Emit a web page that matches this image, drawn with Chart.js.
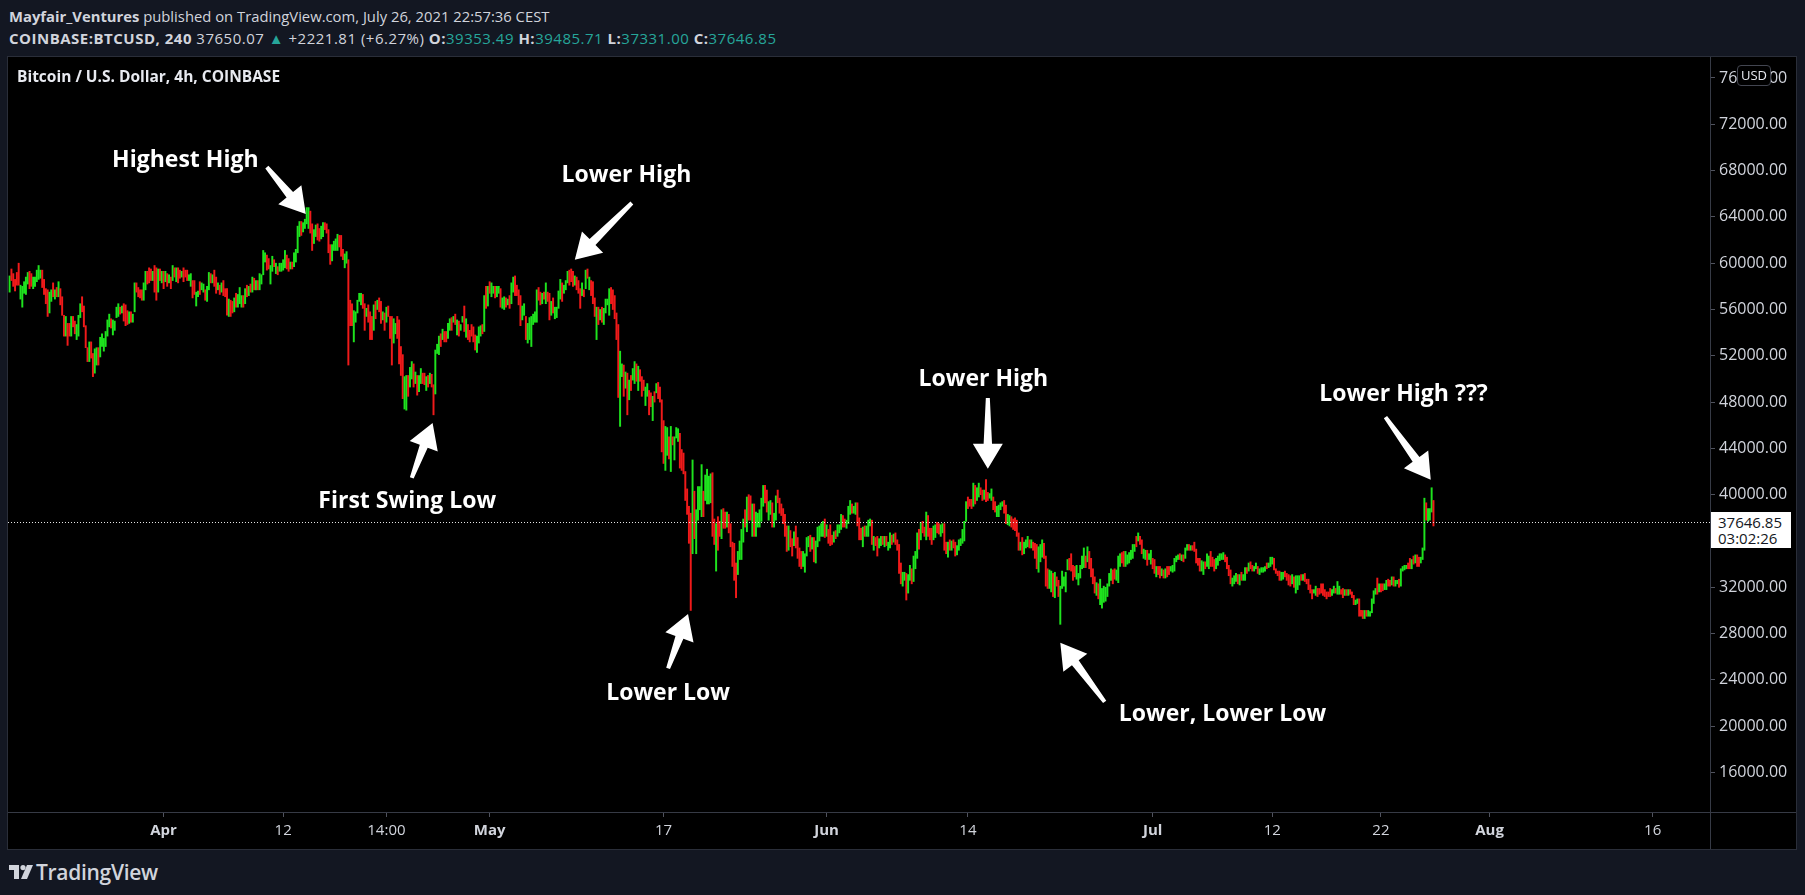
<!DOCTYPE html>
<html lang="en">
<head>
<meta charset="utf-8">
<title>BTCUSD 4h</title>
<script src="https://cdn.jsdelivr.net/npm/chart.js@4.4.1/dist/chart.umd.min.js"></script>
<style>
  body {
    margin: 0;
    width: 1805px;
    height: 895px;
    background: #131722;
    overflow: hidden;
    position: relative;
    font-family: "Open Sans", "Noto Sans", sans-serif;
    color: #d1d4dc;
  }
  .hdr { position: absolute; left: 9px; font-size: 14.8px; line-height: 20px; white-space: nowrap; }
  .hdr b { font-weight: 700; }
  .wide { font-size: 15px; letter-spacing: 0.5px; }
  .teal { color: #26a69a; }
  #panel { position: absolute; left: 8px; top: 57px; width: 1788px; height: 792px; background: #000; box-shadow: 0 0 0 1px #2a2e39; }
  #panel canvas { position: absolute; left: 0; top: 0; }
  #title { position: absolute; left: 9px; top: 9px; font-size: 15.5px; line-height: 20px; font-weight: 700; color: #e8eaf0; white-space: nowrap; }
  .note { position: absolute; transform: translate(-50%, -50%); font-size: 23px; font-weight: 700; color: #fff; white-space: nowrap; }
  #usd { position: absolute; left: 1729px; top: 8px; width: 32px; height: 19px; border: 1px solid #434651; border-radius: 4px;
         background: #000; color: #e8eaf0; font-size: 13px; line-height: 19px; text-align: center; }
  #lastPrice { position: absolute; width: 80px; height: 36px; background: #fff; color: #131722; font-size: 15px;
               line-height: 16px; padding: 2px 0 0 7px; box-sizing: border-box; }
  #footer { position: absolute; left: 9px; top: 860px; height: 24px; display: flex; align-items: center; gap: 3px; }
  #footer span { font-size: 21px; font-weight: 600; color: #d1d4dc; letter-spacing: -0.3px; }
</style>
</head>
<body>
<div class="hdr" style="top:6px"><b>Mayfair_Ventures</b> published on TradingView.com, July 26, 2021 22:57:36 CEST</div>
<div class="hdr wide" style="top:28px"><b>COINBASE:BTCUSD, 240</b> 37650.07 <span class="teal">▲</span> +2221.81 (+6.27%) <b>O:</b><span class="teal">39353.49</span> <b>H:</b><span class="teal">39485.71</span> <b>L:</b><span class="teal">37331.00</span> <b>C:</b><span class="teal">37646.85</span></div>

<div id="panel">
  <canvas id="myChart" width="1788" height="792"></canvas>
  <div id="title">Bitcoin / U.S. Dollar, 4h, COINBASE</div>
  <div id="usd">USD</div>
</div>

<div id="footer">
  <svg width="24" height="14" viewBox="0 0 24 14">
    <path d="M0 0h10v14H5V5H0z" fill="#d1d4dc"/>
    <circle cx="14" cy="2.6" r="2.6" fill="#d1d4dc"/>
    <path d="M18 0h6l-6 14h-6z" fill="#d1d4dc"/>
  </svg>
  <span>TradingView</span>
</div>

<script>
// 4h bars from Mar 17 20:00 to Jul 26 20:00, [high, low] in hundreds of USD
const marchBars = [
  [589,575],[595,585],[591,580],[586,576],[592,581],[600,581],[581,569],[580,562],[584,574],[588,573],
  [592,582],[593,578],[591,580],[588,578],[588,580],[594,584],[598,586],[594,587],[594,579],[586,573],
  [578,565],[577,554],[575,557],[577,567],[583,571],[577,569],[579,571],[584,571],[578,564],[571,555],
  [555,537],[554,537],[548,529],[548,537],[554,537],[554,545],[550,539],[547,534],[555,537],[565,553],
  [571,558],[563,545],[546,527],[527,515],[532,515],[532,518],[522,502],[526,505],[527,512],[527,512],
  [536,519],[539,528],[535,524],[541,528],[551,537],[556,545],[552,544],[551,538],[550,542],[562,553],
  [565,554],[562,556],[563,557],[565,550],[564,546],[559,547],[558,548],[558,549],[556,549],[583,558],
  [583,575],[579,571],[577,570],[577,568],[583,568],[593,577],[593,582],[596,583],[595,585],[593,585],
  [598,575],[596,568],[595,575],[595,585],[593,583]
];
const aprilBars = [
  [593,578],[593,584],[591,580],[590,583],[588,578],[598,585],[596,588],[596,584],[596,583],[594,587],
  [593,588],[596,584],[594,588],[594,585],[590,585],[591,580],[585,570],[585,573],[575,563],[576,571],
  [584,573],[583,577],[582,575],[577,568],[580,567],[592,577],[591,583],[590,583],[594,580],[588,574],
  [583,577],[581,573],[583,575],[585,572],[578,571],[578,555],[569,554],[568,554],[567,557],[570,558],
  [574,562],[573,562],[579,565],[572,562],[572,562],[578,565],[581,571],[580,572],[582,575],[588,575],
  [587,577],[585,577],[585,577],[591,577],[590,582],[611,590],[609,601],[607,594],[604,595],[598,582],
  [606,593],[603,597],[600,591],[597,590],[600,593],[600,593],[603,594],[611,596],[607,595],[604,593],
  [601,595],[601,595],[609,597],[612,601],[632,609],[636,623],[636,624],[635,627],[638,630],[648,634],
  [648,630],[645,626],[634,611],[629,617],[633,623],[634,620],[630,619],[632,621],[635,623],[635,629],
  [634,626],[629,609],[616,599],[616,602],[619,611],[621,611],[625,611],[624,614],[624,606],[612,603],
  [608,596],[610,600],[603,512],[568,546],[565,546],[559,532],[558,549],[568,557],[574,567],[574,564],
  [573,561],[565,542],[561,554],[564,549],[558,534],[554,534],[564,542],[567,552],[568,560],[570,558],
  [567,548],[558,551],[557,542],[562,549],[563,554],[554,535],[554,512],[552,531],[548,539],[554,535],
  [551,513],[528,503],[521,483],[502,474],[503,473],[503,485],[510,493],[515,500],[513,493],[506,496],
  [503,486],[503,489],[509,496],[505,496],[505,495],[502,490],[503,493],[505,496],[504,493],[495,469],
  [525,487],[530,522],[537,521],[539,528],[543,534],[541,532],[541,532],[548,535],[552,542],[553,542],
  [554,549],[556,547],[551,538],[550,537],[547,542],[554,549],[563,541],[552,536],[547,534],[542,532],
  [547,537],[545,532],[538,525],[537,523],[545,531],[546,537],[547,539],[572,541],[580,561],[580,563]
];
const mayBars = [
  [584,574],[583,571],[580,574],[580,570],[580,571],[580,574],[578,562],[570,561],[571,560],[570,562],
  [569,564],[572,561],[583,565],[588,575],[589,572],[581,572],[577,564],[572,546],[563,551],[565,555],
  [554,534],[548,531],[553,534],[554,528],[556,547],[558,549],[577,549],[579,568],[575,564],[574,565],
  [575,569],[583,565],[575,567],[574,551],[567,555],[570,557],[562,552],[562,553],[576,561],[586,569],
  [583,567],[581,574],[585,577],[593,583],[594,581],[595,584],[593,580],[589,581],[588,577],[585,574],
  [578,561],[583,572],[577,571],[594,578],[595,587],[588,577],[585,572],[584,565],[570,554],[562,534],
  [562,547],[560,551],[562,549],[561,547],[569,557],[569,564],[578,555],[579,565],[577,560],[572,552],
  [557,534],[547,484],[524,459],[513,502],[512,485],[506,492],[505,469],[499,482],[503,490],[509,499],
  [515,496],[513,498],[511,490],[508,498],[502,485],[499,490],[493,477],[496,485],[490,469],[488,476],
  [485,464],[489,480],[496,488],[497,483],[493,480],[482,437],[464,427],[459,421],[458,434],[450,431],
  [459,420],[450,443],[450,430],[458,449],[457,446],[453,423],[439,421],[436,418],[420,395],[405,383],
  [390,358],[384,300],[430,349],[403,362],[387,349],[407,378],[407,387],[426,381],[403,381],[417,395],
  [422,392],[416,392],[418,393],[419,364],[379,357],[375,334],[381,352],[377,364],[387,362],[388,371],
  [385,371],[385,372],[383,367],[375,355],[359,338],[358,326],[341,311],[351,331],[360,344],[370,344],
  [379,359],[387,372],[398,368],[400,378],[399,378],[392,364],[392,364],[385,364],[384,372],[387,372],
  [397,377],[408,390],[408,393],[404,385],[394,378],[395,383],[393,372],[384,372],[399,378],[404,393],
  [397,384],[392,382],[388,375],[383,364],[373,351],[373,352],[369,355],[362,347],[368,356],[373,354],
  [363,345],[354,338],[351,336],[351,338],[349,333],[363,347],[364,355],[365,351],[363,353],[363,342],
  [360,341],[372,355],[373,360],[375,364],[377,364],[379,363]
];
const juneBars = [
  [374,364],[370,358],[374,356],[365,357],[368,359],[369,362],[374,364],[374,367],[383,370],[382,372],
  [379,372],[378,371],[390,375],[395,383],[392,384],[390,384],[393,383],[393,373],[380,361],[371,361],
  [372,355],[373,364],[373,364],[378,364],[379,373],[378,357],[364,352],[363,356],[364,347],[362,354],
  [364,356],[364,357],[364,355],[364,356],[359,352],[367,354],[365,357],[366,359],[367,357],[361,352],
  [357,332],[341,323],[333,321],[333,326],[332,309],[331,315],[339,326],[336,323],[347,325],[351,336],
  [367,345],[370,353],[376,361],[377,367],[372,364],[385,361],[382,364],[371,361],[371,357],[373,361],
  [374,363],[376,367],[375,366],[374,364],[375,367],[375,352],[359,349],[359,346],[361,352],[360,352],
  [361,354],[359,347],[356,348],[361,352],[362,356],[370,358],[377,360],[394,377],[398,388],[396,390],
  [396,388],[410,390],[408,392],[406,395],[410,398],[406,400],[404,395],[404,396],[413,394],[402,395],
  [401,397],[405,395],[398,387],[394,385],[390,381],[391,381],[393,387],[394,390],[395,384],[391,375],
  [383,374],[382,373],[381,372],[379,370],[380,369],[378,364],[367,352],[359,352],[363,348],[359,349],
  [361,354],[364,355],[361,354],[361,354],[359,352],[358,345],[357,336],[355,333],[357,342],[361,346],
  [358,345],[347,321],[336,319],[335,319],[334,316],[332,312],[333,311],[329,321],[326,312],[321,288],
  [334,319],[329,321],[333,316],[344,335],[345,335],[349,334],[339,326],[338,329],[339,327],[332,322],
  [339,328],[347,336],[354,337],[347,337],[355,342],[351,336],[345,329],[336,323],[329,315],[324,313],
  [323,310],[327,305],[319,302],[321,307],[320,308],[323,312],[332,321],[336,326],[335,323],[336,327],
  [335,326],[347,324],[349,338],[350,341],[351,338],[351,338],[348,340],[350,341],[352,344],[357,345],
  [357,351],[364,355],[367,360],[364,357],[361,349],[353,345],[352,344],[352,339],[349,344],[352,340]
];
const julyBars = [
  [345,336],[344,332],[338,329],[338,331],[338,328],[336,330],[335,328],[336,328],[338,329],[338,331],
  [338,334],[339,333],[345,334],[347,342],[348,344],[349,344],[348,343],[348,342],[354,345],[357,352],
  [357,352],[356,352],[356,352],[359,351],[353,341],[345,339],[345,334],[343,334],[342,331],[342,336],
  [349,338],[347,336],[351,338],[346,338],[344,334],[345,336],[347,339],[349,343],[349,344],[350,344],
  [348,342],[346,336],[339,330],[335,323],[328,321],[330,323],[332,325],[331,323],[331,322],[333,326],
  [331,326],[337,326],[337,332],[341,334],[342,336],[339,334],[338,334],[341,336],[338,332],[336,331],
  [337,333],[337,333],[338,334],[341,336],[341,337],[346,338],[346,340],[345,335],[336,332],[334,330],
  [334,326],[333,326],[333,327],[334,329],[332,326],[331,322],[330,321],[331,323],[329,320],[330,315],
  [330,318],[330,322],[331,326],[331,326],[332,325],[327,323],[327,318],[322,315],[318,310],[318,315],
  [321,313],[319,312],[319,314],[323,315],[323,313],[318,312],[316,310],[316,312],[319,312],[318,313],
  [321,315],[319,315],[325,314],[321,314],[318,314],[319,311],[318,313],[318,313],[318,313],[318,314],
  [316,311],[313,305],[309,305],[310,306],[310,295],[300,295],[300,293],[300,293],[300,295],[300,295],
  [299,295],[310,298],[317,306],[319,314],[328,314],[323,316],[323,316],[323,317],[323,318],[326,318],
  [327,321],[326,321],[329,322],[329,321],[326,321],[326,323],[327,320],[336,321],[338,334],[339,335],
  [339,336],[341,336],[345,336],[344,336],[347,340],[348,341],[348,338],[346,338],[346,341],[354,344],
  [397,352],[393,378],[388,377],[388,378],[406,385],[395,373]
];

// bar direction, G = close above open, R = close below open
const marchDir = "GRRRRRGGGG" + "GRRGGGGGRR" + "RRGGRGRGRR" + "RGRRGRRGGG" + "RRRRGRRGGR" + "GGGGGGRGGG" + "GRGRRRGRGG" + "RRRRGGRRRG" + "RRGRG";
const aprilDir = "RGRGRGRGRR" + "GRRRGGRRGG" + "RGGRGGRGRR" + "GRGRRRGRRG" + "RGGGRGRGRG" + "RGRGGGGRRG" + "GRGRGGGGRR" + "GRGGGGRGGG" + "GRRGGRRGGR" +
                 "RRRGGGGRRR" + "GGRRRGGGGG" + "RRGRRRGRGR" + "RGRGRRRGGR" + "RRRGGRGGRG" + "RGGRRGRGRR" + "GGGRGRRGGR" + "GRGRGGRGRR" + "RRRGGGRGRG";
const mayDir = "RGGRGGRGGR" + "GRGGRRRRGG" + "RGGGGGGRRG" + "RGRRGRGGGG" + "RGGGRRRGRR" + "RGRGRGRRRG" + "RGRGGGGRRR" + "RRGGRGRGRG" + "GRGRRRGGRR" +
               "GRGRRRRGGR" + "GRGGGRRRRR" + "RRGRGGGGRG" + "GGGRRGRRGR" + "RGRRRRRGGG" + "GRGRRGRGGG" + "GGRRGGRGGR" + "RRRRRGRRGR" + "RRRGGGGRGR" + "GGGGGR";
const juneDir = "GRRRGRGGGR" + "RGGGRGGRRR" + "GRGGGRGRRG" + "GRGRGGRGRR" + "RRGGRGGRGG" + "GRGRRGRRRG" + "GRRGGRRGRG" + "RRGGGGGGRR" + "RGRGGRRGRR" +
                "GGRRGGGGRR" + "GGRRRRRGRG" + "GGRGRRRGGG" + "RRRGGRGRRG" + "GGGGRRRRGG" + "GGGRGRRRRG" + "RGGGGGGGRR" + "GGGRRGGGGG" + "GRGRRGGRGG";
const julyDir = "RRGRRGRGRR" + "GGGGGRGRGG" + "RGRRRRRGGR" + "GGRRRGGGGG" + "RRRRGGGRGR" + "GGRGRRGGRG" + "GGGRGGGRRR" + "RGGRRRRGRG" +
                "GGRGRRRRRG" + "GRRRRRRRRG" + "GRGGRRGRGR" + "RRGGRRRGRG" + "GGGGRGRRGG" + "RRGRGGRGGG" + "GRRGRGRRGG" + "GRGGGR";

// bar index of the axis labels (6 bars per day, Apr 1 = bar 85)
const xTickBars = [85, 151, 208, 265, 361, 451, 529, 631, 697, 757, 817, 907];
const xTickLabels = ["Apr", "12", "14:00", "May", "17", "Jun", "14", "Jul", "12", "22", "Aug", "16"];
const monthLabels = ["Apr", "May", "Jun", "Jul", "Aug"];
const yTickValues = [16000, 20000, 24000, 28000, 32000, 36000, 40000, 44000, 48000, 52000, 56000, 60000, 64000, 68000, 72000, 76000];

const lastPrice = 37646.85;
const lastPriceTimer = "03:02:26";

// drawings on the chart, anchored as [bar index, price]
const noteLabels = ["Highest High", "Lower High", "First Swing Low", "Lower Low", "Lower High", "Lower, Lower Low", "Lower High ???"];
const noteTextAt = [[97, 69100], [340.5, 67800], [219.5, 39650], [363.5, 23050], [537.5, 50200], [669.5, 21200], [769.5, 48900]];
const arrowTail = [[142, 68300], [343.5, 65200], [222, 41450], [363.5, 25000], [540, 48350], [604.5, 22100], [759.5, 46700]];
const arrowTip = [[163.5, 64250], [312, 60300], [233.5, 46200], [374.5, 29700], [540, 42250], [580, 27200], [784.5, 41300]];

const GREEN = "#1ee31e";
const RED = "#f01a1a";
const AXIS_LINE = "#363a45";
const TEXT = "#d1d4dc";

const bars = [...marchBars, ...aprilBars, ...mayBars, ...juneBars, ...julyBars];
const dirs = (marchDir + aprilDir + mayDir + juneDir + julyDir).split("");
if (dirs.length !== bars.length) console.error("direction count", dirs.length, "bars", bars.length);

const barData = bars.map(([hi, lo], i) => ({ x: i, y: [lo * 100, hi * 100] }));
const barColors = bars.map((b, i) => (dirs[i] === "G" ? GREEN : RED));

function drawArrow(ctx, x0, y0, x1, y1) {
  const len = Math.hypot(x1 - x0, y1 - y0);
  const ux = (x1 - x0) / len;
  const uy = (y1 - y0) / len;
  const nx = -uy;
  const ny = ux;
  const head = 25;
  const bx = x1 - ux * head;
  const by = y1 - uy * head;
  const pts = [
    [x0 + nx * 2, y0 + ny * 2],
    [bx + nx * 4.2, by + ny * 4.2],
    [bx + nx * 15, by + ny * 15],
    [x1, y1],
    [bx - nx * 15, by - ny * 15],
    [bx - nx * 4.2, by - ny * 4.2],
    [x0 - nx * 2, y0 - ny * 2],
  ];
  ctx.beginPath();
  pts.forEach(([px, py], k) => (k ? ctx.lineTo(px, py) : ctx.moveTo(px, py)));
  ctx.closePath();
  ctx.fillStyle = "#ffffff";
  ctx.fill();
}

const overlayPlugin = {
  id: "overlay",
  afterDatasetsDraw(chart) {
    const { ctx, chartArea, scales } = chart;
    const { x, y } = scales;
    ctx.save();
    // pane separators
    ctx.strokeStyle = AXIS_LINE;
    ctx.lineWidth = 1;
    ctx.beginPath();
    ctx.moveTo(Math.round(chartArea.right) + 0.5, 0);
    ctx.lineTo(Math.round(chartArea.right) + 0.5, chart.height);
    ctx.moveTo(0, Math.round(chartArea.bottom) + 0.5);
    ctx.lineTo(chart.width, Math.round(chartArea.bottom) + 0.5);
    ctx.stroke();

    // last price, dotted
    const py = Math.round(y.getPixelForValue(lastPrice)) + 0.5;
    ctx.strokeStyle = "#e6e6e6";
    ctx.setLineDash([1, 2]);
    ctx.beginPath();
    ctx.moveTo(chartArea.left, py);
    ctx.lineTo(chartArea.right, py);
    ctx.stroke();
    ctx.setLineDash([]);

    arrowTail.forEach((tail, k) => {
      const tip = arrowTip[k];
      drawArrow(ctx, x.getPixelForValue(tail[0]), y.getPixelForValue(tail[1]),
                x.getPixelForValue(tip[0]), y.getPixelForValue(tip[1]));
    });
    ctx.restore();
  },
};

const chart = new Chart(document.getElementById("myChart"), {
  type: "bar",
  data: {
    datasets: [{
      data: barData,
      backgroundColor: barColors,
      borderWidth: 0,
      barThickness: 1.3,
      grouped: false,
    }],
  },
  options: {
    responsive: false,
    animation: false,
    events: [],
    layout: { padding: 0 },
    plugins: { legend: { display: false }, tooltip: { enabled: false } },
    scales: {
      x: {
        type: "linear",
        min: -0.894,
        max: 938.66,
        offset: false,
        grid: { drawOnChartArea: false, drawTicks: true, tickLength: 5, tickColor: "#50535e", offset: false },
        border: { display: true, color: AXIS_LINE },
        afterBuildTicks: (scale) => { scale.ticks = xTickBars.map((v) => ({ value: v })); },
        afterFit: (scale) => { scale.height = 37; scale.paddingLeft = 0; scale.paddingRight = 0; },
        ticks: {
          autoSkip: false,
          maxRotation: 0,
          padding: 5,
          color: TEXT,
          callback: (value, index) => xTickLabels[index],
          font: (ctx) => ({
            family: "'Open Sans', sans-serif",
            size: 15,
            weight: ctx.tick && monthLabels.includes(xTickLabels[ctx.index]) ? "bold" : "normal",
          }),
        },
      },
      y: {
        position: "right",
        min: 12587,
        max: 77814,
        grid: { drawOnChartArea: false, drawTicks: true, tickLength: 5, tickColor: "#50535e" },
        border: { display: true, color: AXIS_LINE },
        afterBuildTicks: (scale) => { scale.ticks = yTickValues.map((v) => ({ value: v })); },
        afterFit: (scale) => { scale.width = 86; scale.paddingTop = 0; scale.paddingBottom = 0; },
        ticks: {
          padding: 4,
          color: TEXT,
          font: { family: "'Open Sans', sans-serif", size: 16 },
          callback: (value) => Number(value).toFixed(2),
        },
      },
    },
  },
  plugins: [overlayPlugin],
});

// text of the drawings, placed through the chart scales
const panel = document.getElementById("panel");
const xs = chart.scales.x;
const ys = chart.scales.y;
noteLabels.forEach((text, k) => {
  const div = document.createElement("div");
  div.className = "note";
  div.textContent = text;
  div.style.left = xs.getPixelForValue(noteTextAt[k][0]) + "px";
  div.style.top = ys.getPixelForValue(noteTextAt[k][1]) + "px";
  panel.appendChild(div);
});

const priceBox = document.createElement("div");
priceBox.id = "lastPrice";
priceBox.innerHTML = lastPrice.toFixed(2) + "<br>" + lastPriceTimer;
priceBox.style.left = Math.round(chart.chartArea.right) + 1 + "px";
priceBox.style.top = Math.round(ys.getPixelForValue(lastPrice)) - 10 + "px";
panel.appendChild(priceBox);
</script>
</body>
</html>
